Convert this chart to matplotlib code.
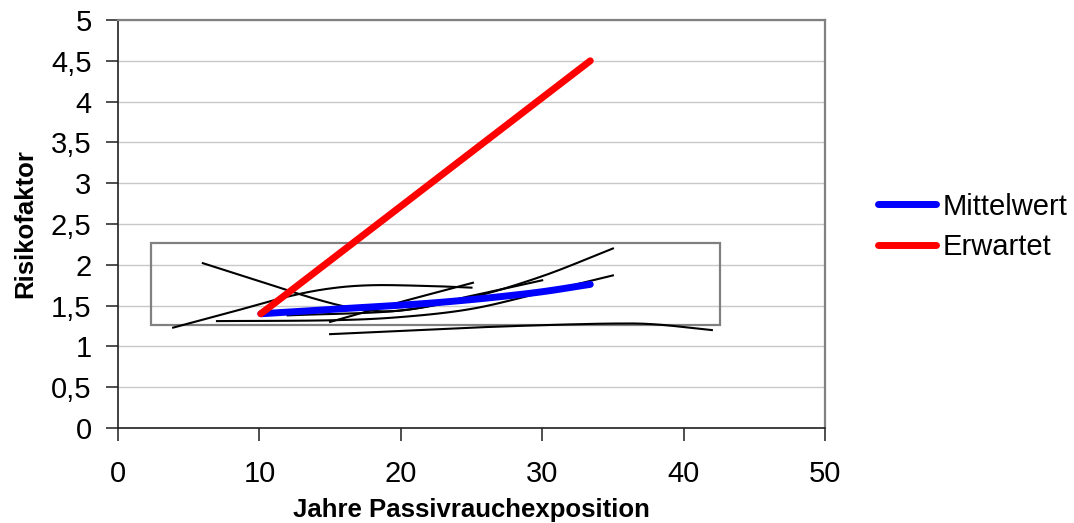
import numpy as np
import matplotlib
matplotlib.use("Agg")
import matplotlib.pyplot as plt
from matplotlib.patches import Rectangle

plt.rcParams['font.family'] = ['Liberation Sans', 'DejaVu Sans']

# Einzelstudien (Jahre, Risikofaktor)
studie_a_x = [3.9, 8, 12, 15, 18, 22, 25]
studie_a_y = [1.23, 1.42, 1.61, 1.71, 1.75, 1.74, 1.72]
studie_b_x = [6, 10, 14, 17, 20, 25, 30, 35]
studie_b_y = [2.02, 1.80, 1.58, 1.46, 1.44, 1.60, 1.86, 2.20]
studie_c_x = [7, 15, 20, 25, 30, 35]
studie_c_y = [1.31, 1.32, 1.36, 1.46, 1.66, 1.87]
studie_d_x = [15, 19.7, 25.1]
studie_d_y = [1.30, 1.53, 1.78]
studie_e_x = [12, 20, 25, 30]
studie_e_y = [1.38, 1.44, 1.62, 1.81]
studie_f_x = [15, 20, 25, 30, 35, 38, 42]
studie_f_y = [1.15, 1.19, 1.23, 1.26, 1.28, 1.27, 1.20]

studien = [(studie_a_x, studie_a_y), (studie_b_x, studie_b_y),
           (studie_c_x, studie_c_y), (studie_d_x, studie_d_y),
           (studie_e_x, studie_e_y), (studie_f_x, studie_f_y)]

mittelwert_x = [10.1, 15.7, 22.8, 29.1, 33.4]
mittelwert_y = [1.40, 1.46, 1.54, 1.65, 1.76]
erwartet_x = [10.1, 33.4]
erwartet_y = [1.40, 4.50]

# Markierter Bereich der Studien
bereich_x = [2.33, 42.6]
bereich_y = [1.26, 2.27]

x_ticks = [0, 10, 20, 30, 40, 50]
y_ticks = [0, 0.5, 1, 1.5, 2, 2.5, 3, 3.5, 4, 4.5, 5]


def glatt(xs, ys, n=24):
    """Catmull-Rom-Glättung zwischen den Stützpunkten."""
    p = np.column_stack([xs, ys]).astype(float)
    if len(p) < 3:
        return p[:, 0], p[:, 1]
    ext = np.vstack([2 * p[0] - p[1], p, 2 * p[-1] - p[-2]])
    out = []
    t = np.linspace(0, 1, n, endpoint=False)[:, None]
    for i in range(1, len(ext) - 2):
        p0, p1, p2, p3 = ext[i - 1], ext[i], ext[i + 1], ext[i + 2]
        seg = 0.5 * ((2 * p1) + (-p0 + p2) * t +
                     (2 * p0 - 5 * p1 + 4 * p2 - p3) * t ** 2 +
                     (-p0 + 3 * p1 - 3 * p2 + p3) * t ** 3)
        out.append(seg)
    out.append(p[-1][None, :])
    out = np.vstack(out)
    return out[:, 0], out[:, 1]


fig = plt.figure(figsize=(10.74, 5.23), dpi=100)
ax = fig.add_axes([118 / 1074, 1 - 428 / 523, (825 - 118) / 1074, (428 - 20) / 523])

ax.set_xlim(0, 50)
ax.set_ylim(0, 5)
ax.set_xticks(x_ticks)
ax.set_yticks(y_ticks)
ax.set_xticklabels([str(v) for v in x_ticks])
ax.set_yticklabels([f"{v:g}".replace('.', ',') for v in y_ticks])
ax.tick_params(axis='both', direction='out', length=9, width=1.2, color='#303030',
               labelsize=21)
ax.tick_params(axis='y', pad=10)
ax.tick_params(axis='x', pad=14)

ax.yaxis.grid(True, color='#c8c8c8', linewidth=1.0)
ax.set_axisbelow(True)

for s in ['top', 'right']:
    ax.spines[s].set_color('#808080')
    ax.spines[s].set_linewidth(1.6)
for s in ['left', 'bottom']:
    ax.spines[s].set_color('#202020')
    ax.spines[s].set_linewidth(1.2)

ax.add_patch(Rectangle((bereich_x[0], bereich_y[0]), bereich_x[1] - bereich_x[0],
                       bereich_y[1] - bereich_y[0], fill=False,
                       edgecolor='#808080', linewidth=1.6, zorder=2))

for xs, ys in studien:
    gx, gy = glatt(xs, ys)
    ax.plot(gx, gy, color='black', linewidth=1.5, zorder=3)

gx, gy = glatt(mittelwert_x, mittelwert_y)
ax.plot(gx, gy, color='#0000ff', linewidth=5, solid_capstyle='round',
        zorder=4, label='Mittelwert')
ax.plot(erwartet_x, erwartet_y, color='#ff0000', linewidth=5,
        solid_capstyle='round', zorder=5, label='Erwartet')

fig.legend(loc='upper left', bbox_to_anchor=(877.5 / 1074, 1 - 192.5 / 523),
           frameon=False, fontsize=21, handlelength=2.0, handletextpad=0.22,
           labelspacing=0.42, borderaxespad=0, borderpad=0)

fig.text(471 / 1074, 1 - 516.5 / 523, 'Jahre Passivrauchexposition',
         ha='center', va='baseline', fontsize=18.5, fontweight='bold')
fig.text(25 / 1074, 1 - 224 / 523, 'Risikofaktor', rotation=90,
         ha='center', va='center', fontsize=18.5, fontweight='bold')

fig.savefig('out.png', dpi=100)
